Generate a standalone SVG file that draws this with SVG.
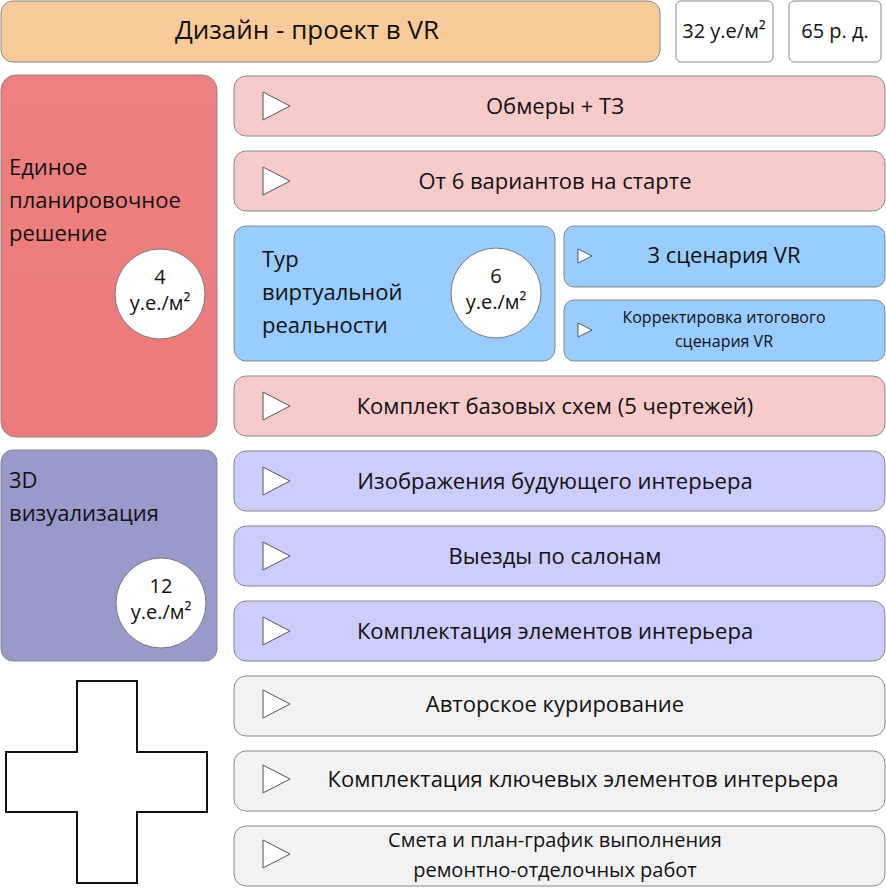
<svg xmlns="http://www.w3.org/2000/svg" width="886" height="888" viewBox="0 0 886 888">
<defs>
<linearGradient id="gr" x1="0" y1="0" x2="0" y2="1"><stop offset="0" stop-color="#ee8080"/><stop offset="1" stop-color="#ec7b7b"/></linearGradient>
<style>
text{font-family:"Open Sans","Noto Sans","Liberation Sans",sans-serif;fill:#111;}
.b{stroke:#888;stroke-width:1}
.pk{fill:#f8cbcb}.bl{fill:#99ccff}.lv{fill:#ccccff}.gy{fill:#f2f2f2}
.t{font-size:22px;text-anchor:middle}
.tri{fill:#fff;stroke:#555;stroke-width:1}
.c{fill:#fff;stroke:#777;stroke-width:1}
.n{font-size:20px;text-anchor:middle}
</style>
</defs>
<g id="title">
<rect x="1" y="1" width="659" height="61" rx="12" fill="#f9cb9a" class="b"/>
<text x="307" y="39" font-size="26" text-anchor="middle">Дизайн - проект в VR</text>
</g>
<g id="price"><rect x="676" y="1" width="97" height="61" rx="5" fill="#fff" class="b"/><text x="724" y="38" font-size="20" text-anchor="middle">32 у.е/м²</text></g>
<g id="days"><rect x="789" y="1" width="92" height="61" rx="5" fill="#fff" class="b"/><text x="835" y="38" font-size="20" text-anchor="middle">65 р. д.</text></g>

<g id="plan">
<rect x="1" y="75" width="216" height="362" rx="15" fill="url(#gr)" class="b"/>
<text font-size="22"><tspan x="9" y="175">Единое</tspan><tspan x="9" y="208">планировочное</tspan><tspan x="9" y="241">решение</tspan></text>
<circle cx="160" cy="294" r="45" class="c"/>
<text class="n"><tspan x="160" y="284">4</tspan><tspan x="160" y="310">у.е./м²</tspan></text>
</g>
<g id="r1"><rect x="234" y="76" width="651" height="60" rx="12" class="pk b"/><polygon points="263,92 290,106 263,120" class="tri"/><text x="555" y="114" class="t">Обмеры + ТЗ</text></g>
<g id="r2"><rect x="234" y="151" width="651" height="60" rx="12" class="pk b"/><polygon points="263,167 290,181 263,195" class="tri"/><text x="555" y="189" class="t">От 6 вариантов на старте</text></g>
<g id="tour">
<rect x="234" y="226" width="321" height="135" rx="12" class="bl b"/>
<text font-size="22"><tspan x="262" y="267">Тур</tspan><tspan x="262" y="300">виртуальной</tspan><tspan x="262" y="333">реальности</tspan></text>
<circle cx="496" cy="293" r="45" class="c"/>
<text class="n"><tspan x="496" y="283">6</tspan><tspan x="496" y="309">у.е./м²</tspan></text>
</g>
<g id="vr1"><rect x="564" y="226" width="321" height="61" rx="10" class="bl b"/><polygon points="578,249 592,256 578,263" class="tri"/><text x="724" y="263" class="t">3 сценария VR</text></g>
<g id="vr2"><rect x="564" y="300" width="321" height="61" rx="10" class="bl b"/><polygon points="578,323 592,330 578,337" class="tri"/><text font-size="16" text-anchor="middle"><tspan x="724" y="323">Корректировка итогового</tspan><tspan x="724" y="347">сценария VR</tspan></text></g>
<g id="r3"><rect x="234" y="376" width="651" height="60" rx="12" class="pk b"/><polygon points="263,392 290,406 263,420" class="tri"/><text x="555" y="414" class="t">Комплект базовых схем (5 чертежей)</text></g>

<g id="viz">
<rect x="1" y="450" width="216" height="211" rx="12" fill="#9999cc" class="b"/>
<text font-size="22"><tspan x="9" y="488">3D</tspan><tspan x="9" y="521">визуализация</tspan></text>
<circle cx="161" cy="603" r="45" class="c"/>
<text class="n"><tspan x="161" y="593">12</tspan><tspan x="161" y="619">у.е./м²</tspan></text>
</g>
<g id="r4"><rect x="234" y="451" width="651" height="60" rx="12" class="lv b"/><polygon points="263,467 290,481 263,495" class="tri"/><text x="555" y="489" class="t">Изображения будующего интерьера</text></g>
<g id="r5"><rect x="234" y="526" width="651" height="60" rx="12" class="lv b"/><polygon points="263,542 290,556 263,570" class="tri"/><text x="555" y="564" class="t">Выезды по салонам</text></g>
<g id="r6"><rect x="234" y="601" width="651" height="60" rx="12" class="lv b"/><polygon points="263,617 290,631 263,645" class="tri"/><text x="555" y="639" class="t">Комплектация элементов интерьера</text></g>

<g id="plus"><polygon points="77,681 137,681 137,752 207,752 207,812 137,812 137,883 77,883 77,812 6,812 6,752 77,752" fill="#fff" stroke="#111" stroke-width="2"/></g>
<g id="r7"><rect x="234" y="676" width="651" height="60" rx="12" class="gy b"/><polygon points="263,690 290,704 263,718" class="tri"/><text x="555" y="712" class="t">Авторское курирование</text></g>
<g id="r8"><rect x="234" y="751" width="651" height="60" rx="12" class="gy b"/><polygon points="263,765 290,779 263,793" class="tri"/><text x="583" y="787" class="t">Комплектация ключевых элементов интерьера</text></g>
<g id="r9"><rect x="234" y="826" width="651" height="60" rx="12" class="gy b"/><polygon points="263,840 290,854 263,868" class="tri"/><text font-size="20" text-anchor="middle"><tspan x="555" y="847">Смета и план-график выполнения</tspan><tspan x="555" y="877">ремонтно-отделочных работ</tspan></text></g>
<g id="connectors"/>
</svg>
